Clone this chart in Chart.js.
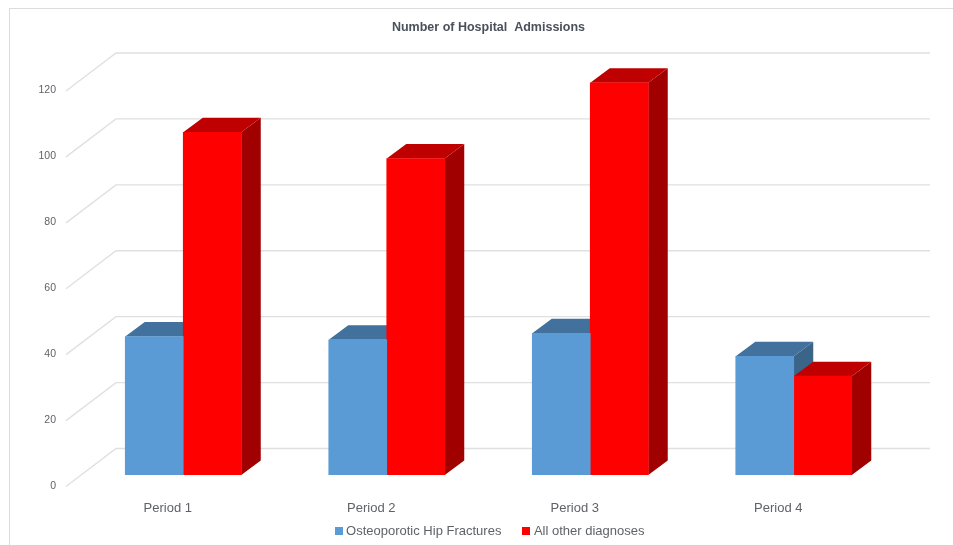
<!DOCTYPE html>
<html>
<head>
<meta charset="utf-8">
<title>Number of Hospital Admissions</title>
<script src="https://cdn.jsdelivr.net/npm/chart.js@4"></script>
<style>
  html, body { margin: 0; padding: 0; background: #fff; overflow: hidden; }
  #wrap { position: relative; width: 953px; height: 545px; }
  #frame { position: absolute; left: 9px; top: 8px; right: 0; bottom: 0;
           border-left: 1px solid #dcdcdc; border-top: 1px solid #dcdcdc; }
  canvas { position: absolute; left: 0; top: 0; }
</style>
</head>
<body>
<div id="wrap">
  <div id="frame"></div>
  <canvas id="chart" width="953" height="545"></canvas>
</div>
<script>
const categories = ["Period 1", "Period 2", "Period 3", "Period 4"];
const hipFractures = [42, 41, 43, 36];
const otherDiagnoses = [104, 96, 119, 30];
const yTicks = [0, 20, 40, 60, 80, 100, 120];

const FONT = "'Liberation Sans', Arial, sans-serif";
const TEXT = "#5f6368";

// depth of the fake 3D, in pixels
const barDepth = { x: 19.5, y: 14.5 };
const wallDepth = { x: 34.5, y: 26.5 };
const floorFront = { x: 15.5, y: 11.5 };

const faceColors = [
  { top: "#41719c", side: "#3a6589" },
  { top: "#bf0000", side: "#a00000" },
];

function poly(ctx, color, pts) {
  ctx.fillStyle = color;
  ctx.beginPath();
  pts.forEach((p, i) => (i ? ctx.lineTo(p[0], p[1]) : ctx.moveTo(p[0], p[1])));
  ctx.closePath();
  ctx.fill();
}

// legend marker as a small canvas, so it can sit closer to its text
function swatch(color) {
  const c = document.createElement("canvas");
  c.width = 8;
  c.height = 8;
  const g = c.getContext("2d");
  g.fillStyle = color;
  g.fillRect(0, 0, 8, 8);
  return c;
}

const fake3d = {
  id: "fake3d",
  afterLayout(chart) {
    // tick labels are clipped to the scale box, let them hang below it
    chart.scales.x.bottom = chart.height;
    // legend sits a little right of the plot centre
    chart.legend.left += 2.5;
    chart.legend.right += 2.5;
  },
  beforeDatasetsDraw(chart) {
    const { ctx, chartArea, scales } = chart;
    // back wall grid with the diagonals down the side wall
    ctx.save();
    ctx.strokeStyle = "#e0e0e0";
    ctx.lineWidth = 1.4;
    scales.y.ticks.forEach((t) => {
      const y = scales.y.getPixelForValue(t.value);
      ctx.beginPath();
      ctx.moveTo(chartArea.left - floorFront.x, y + floorFront.y);
      ctx.lineTo(chartArea.left + wallDepth.x, y - wallDepth.y);
      ctx.lineTo(chartArea.right + wallDepth.x, y - wallDepth.y);
      ctx.stroke();
    });
    // top and side faces of each bar, the front face is the real bar
    categories.forEach((c, i) => {
      chart.data.datasets.forEach((ds, d) => {
        const bar = chart.getDatasetMeta(d).data[i];
        const half = bar.width / 2;
        const l = bar.x - half, r = bar.x + half, t = bar.y, b = bar.base;
        poly(ctx, faceColors[d].side, [
          [r, t], [r + barDepth.x, t - barDepth.y],
          [r + barDepth.x, b - barDepth.y], [r, b],
        ]);
        poly(ctx, faceColors[d].top, [
          [l, t], [l + barDepth.x, t - barDepth.y],
          [r + barDepth.x, t - barDepth.y], [r, t],
        ]);
      });
    });
    ctx.restore();
  },
};

new Chart(document.getElementById("chart"), {
  type: "bar",
  data: {
    labels: categories,
    datasets: [
      { label: "Osteoporotic Hip Fractures", data: hipFractures, backgroundColor: "#5b9bd5", pointStyle: swatch("#5b9bd5") },
      { label: "All other diagnoses", data: otherDiagnoses, backgroundColor: "#ff0000", pointStyle: swatch("#ff0000") },
    ],
  },
  options: {
    responsive: false,
    animation: false,
    barThickness: 58,
    layout: { padding: { left: 0, right: 57.5, top: 0, bottom: -2.5 } },
    plugins: {
      title: {
        display: true,
        fullSize: false,
        text: "Number of Hospital  Admissions",
        color: "#4a505c",
        font: { family: FONT, size: 12.5, weight: "bold" },
        padding: { top: 20, bottom: 44.5 },
      },
      legend: {
        position: "bottom",
        fullSize: false,
        labels: {
          color: TEXT,
          font: { family: FONT, size: 13 },
          usePointStyle: true,
          pointStyleWidth: 2,
          boxHeight: 8,
          padding: 24,
        },
      },
      tooltip: { enabled: false },
    },
    scales: {
      x: {
        grid: { display: false },
        border: { display: false },
        ticks: {
          color: TEXT,
          font: { family: FONT, size: 13 },
          padding: 18,
          labelOffset: -15.5,
          maxRotation: 0,
        },
        afterFit(scale) { scale.height = 25.5; },
      },
      y: {
        min: yTicks[0],
        max: yTicks[yTicks.length - 1],
        grid: { display: false, drawTicks: false },
        border: { display: false },
        ticks: {
          stepSize: yTicks[1] - yTicks[0],
          color: TEXT,
          font: { family: FONT, size: 10.5 },
          padding: 25.5,
          labelOffset: 11,
        },
        afterFit(scale) { scale.width = 81.5; },
      },
    },
  },
  plugins: [fake3d],
});
</script>
</body>
</html>
